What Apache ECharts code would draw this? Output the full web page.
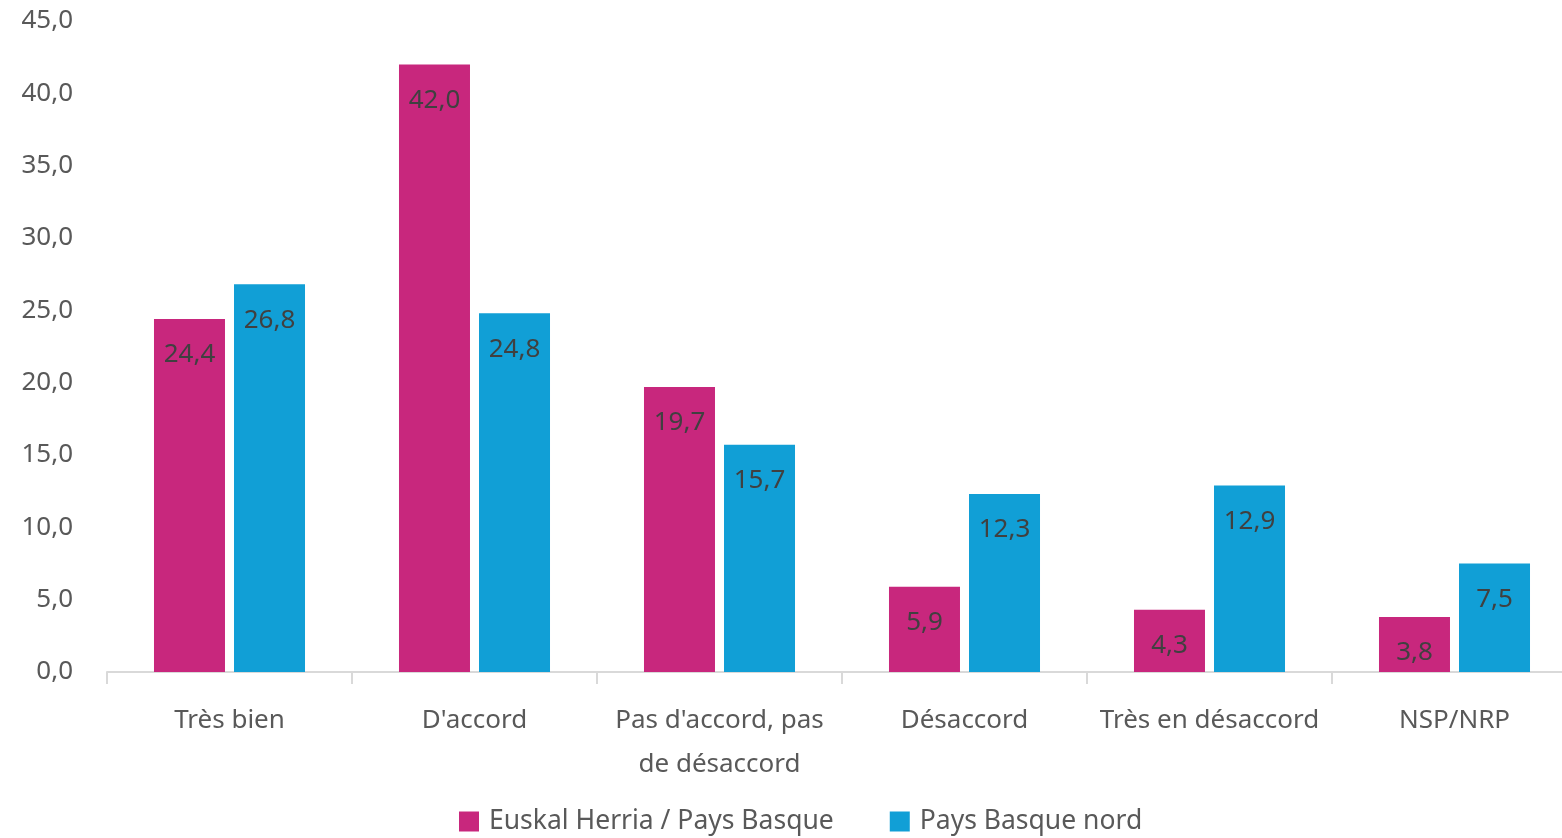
<!DOCTYPE html>
<html><head><meta charset="utf-8">
<script src="https://cdn.jsdelivr.net/npm/echarts@6/dist/echarts.min.js"></script>
<style>html,body{margin:0;padding:0;background:#fff}#c{width:1562px;height:838px}</style>
</head><body><div id="c"></div>
<script>
const categories = ["Très bien", "D'accord", "Pas d'accord, pas\nde désaccord", "Désaccord", "Très en désaccord", "NSP/NRP"];
const seriesNames = ["Euskal Herria / Pays Basque", "Pays Basque nord"];
const euskalHerria = [24.4, 42.0, 19.7, 5.9, 4.3, 3.8];
const paysBasqueNord = [26.8, 24.8, 15.7, 12.3, 12.9, 7.5];
const colors = ["#C8277D", "#119FD6"];
const FONT = "Noto Sans";
const fmt = v => v.toFixed(1).replace('.', ',');

const chart = echarts.init(document.getElementById('c'));
const mkSeries = (name, data, color) => ({
  name, type: 'bar', data, barWidth: 71, barGap: '12.7%',
  itemStyle: { color },
  label: { show: true, position: 'insideTop', distance: 23, color: '#404040',
    fontFamily: FONT, fontSize: 26, formatter: p => fmt(p.value) }
});
chart.setOption({
  animation: false,
  textStyle: { fontFamily: FONT },
  grid: { left: 107, width: 1470, top: 21, bottom: 166, outerBoundsMode: 'none', containLabel: false },
  legend: {
    bottom: -2, left: 454, itemWidth: 20, itemHeight: 20, itemGap: 56,
    icon: 'rect', textStyle: { fontFamily: FONT, fontSize: 26.5, color: '#595959', padding: [0, 0, 0, 5] },
    data: seriesNames
  },
  xAxis: {
    type: 'category', data: categories,
    axisLine: { lineStyle: { color: '#D9D9D9', width: 2 } },
    axisTick: { show: true, length: 12, lineStyle: { color: '#D9D9D9', width: 2 } },
    axisLabel: { color: '#595959', fontFamily: FONT, fontSize: 26, margin: 27, lineHeight: 44, interval: 0 }
  },
  yAxis: {
    type: 'value', min: 0, max: 45, interval: 5,
    splitLine: { show: false }, axisLine: { show: false }, axisTick: { show: false },
    axisLabel: { color: '#595959', fontFamily: FONT, fontSize: 26, margin: 34, formatter: v => fmt(v) }
  },
  series: [mkSeries(seriesNames[0], euskalHerria, colors[0]), mkSeries(seriesNames[1], paysBasqueNord, colors[1])]
});
</script></body></html>
